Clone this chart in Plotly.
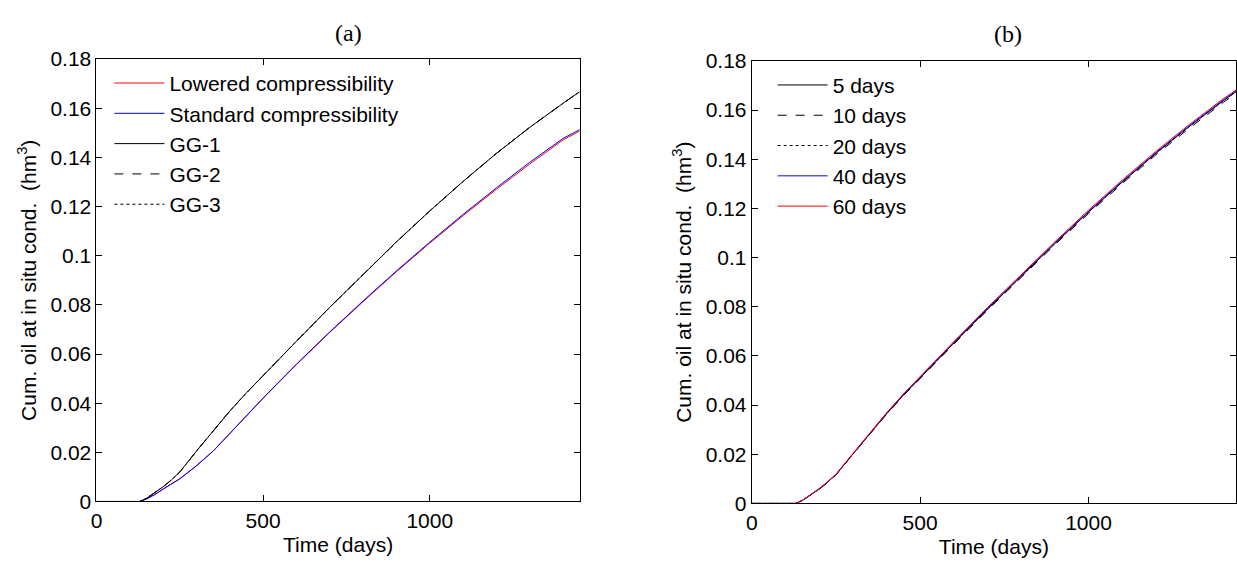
import plotly.graph_objects as go

# ---------------- data ----------------
time_days = [0, 130, 150, 175, 200, 225, 250, 300, 350, 400, 450, 500, 600,
             700, 800, 900, 1000, 1100, 1200, 1300, 1400, 1450]

# panel (a)
lowered_comp = [0, 0, 0.0011, 0.0029, 0.0051, 0.0071, 0.0093, 0.0146, 0.0205, 0.0276,
                0.0349, 0.0420, 0.0557, 0.0688, 0.0813, 0.0935, 0.1051, 0.1163,
                0.1270, 0.1373, 0.1471, 0.1507]
standard_comp = [0, 0, 0.0010, 0.0028, 0.0050, 0.0070, 0.0092, 0.0145, 0.0205, 0.0277,
                 0.0350, 0.0421, 0.0559, 0.0690, 0.0816, 0.0938, 0.1055, 0.1168,
                 0.1276, 0.1380, 0.1477, 0.1513]
gg1 = [0, 0, 0.0013, 0.0035, 0.0060, 0.0088, 0.0120, 0.0205, 0.0288, 0.0368,
       0.0442, 0.0513, 0.0652, 0.0790, 0.0925, 0.1056, 0.1182, 0.1302,
       0.1416, 0.1522, 0.1620, 0.1667]
gg2 = [0, 0, 0.0013, 0.0035, 0.0060, 0.0088, 0.0120, 0.0205, 0.0288, 0.0368,
       0.0442, 0.0513, 0.0652, 0.0790, 0.0925, 0.1056, 0.1182, 0.1302,
       0.1416, 0.1522, 0.1620, 0.1667]
gg3 = [0, 0, 0.0013, 0.0035, 0.0060, 0.0088, 0.0120, 0.0205, 0.0288, 0.0368,
       0.0442, 0.0513, 0.0652, 0.0790, 0.0925, 0.1056, 0.1182, 0.1302,
       0.1416, 0.1522, 0.1620, 0.1667]

# panel (b)
d5 = [0, 0, 0.0012, 0.0034, 0.0058, 0.0086, 0.0117, 0.0200, 0.0283, 0.0364,
      0.0440, 0.0512, 0.0652, 0.0790, 0.0925, 0.1057, 0.1185, 0.1307,
      0.1424, 0.1534, 0.1638, 0.1686]
d10 = [0, 0, 0.0012, 0.0033, 0.0057, 0.0085, 0.0116, 0.0199, 0.0281, 0.0362,
       0.0438, 0.0509, 0.0648, 0.0786, 0.0920, 0.1052, 0.1179, 0.1301,
       0.1418, 0.1527, 0.1631, 0.1679]
d20 = [0, 0, 0.0012, 0.0034, 0.0058, 0.0086, 0.0117, 0.0200, 0.0283, 0.0364,
       0.0440, 0.0512, 0.0652, 0.0790, 0.0925, 0.1057, 0.1185, 0.1307,
       0.1424, 0.1534, 0.1638, 0.1686]
d40 = [0, 0, 0.0012, 0.0034, 0.0059, 0.0087, 0.0118, 0.0201, 0.0284, 0.0366,
       0.0442, 0.0514, 0.0655, 0.0793, 0.0928, 0.1060, 0.1188, 0.1310,
       0.1427, 0.1537, 0.1641, 0.1689]
d60 = [0, 0, 0.0012, 0.0035, 0.0060, 0.0088, 0.0119, 0.0202, 0.0286, 0.0368,
       0.0445, 0.0517, 0.0658, 0.0797, 0.0932, 0.1064, 0.1193, 0.1315,
       0.1432, 0.1542, 0.1646, 0.1693]

y_ticks = [0, 0.02, 0.04, 0.06, 0.08, 0.1, 0.12, 0.14, 0.16, 0.18]
y_tick_labels = ["0", "0.02", "0.04", "0.06", "0.08", "0.1", "0.12", "0.14", "0.16", "0.18"]
x_ticks = [0, 500, 1000]
x_tick_labels = ["0", "500", "1000"]

# ---------------- figure ----------------
W, H = 1237, 572
SANS = "Liberation Sans, Arial, sans-serif"
SERIF = "Liberation Serif, Times New Roman, serif"
FS = 21

fig = go.Figure()

series_a = [
    ("Lowered compressibility", lowered_comp, "#ff0000", "solid"),
    ("Standard compressibility", standard_comp, "#0000ff", "solid"),
    ("GG-1", gg1, "#000000", "solid"),
    ("GG-2", gg2, "#000000", "dash"),
    ("GG-3", gg3, "#000000", "dot"),
]
for name, vals, col, dash in series_a:
    fig.add_trace(go.Scatter(x=time_days, y=vals, name=name, mode="lines",
                             line=dict(color=col, width=1, dash=dash),
                             xaxis="x", yaxis="y", legend="legend"))

series_b = [
    ("5 days", d5, "#000000", "solid"),
    ("10 days", d10, "#000000", "dash"),
    ("20 days", d20, "#000000", "dot"),
    ("40 days", d40, "#0000ff", "solid"),
    ("60 days", d60, "#ff0000", "solid"),
]
for name, vals, col, dash in series_b:
    fig.add_trace(go.Scatter(x=time_days, y=vals, name=name, mode="lines",
                             line=dict(color=col, width=1, dash=dash),
                             xaxis="x2", yaxis="y2", legend="legend2"))

def xax(domain, rng, anchor):
    return dict(domain=domain, range=rng, anchor=anchor,
                tickvals=x_ticks, ticktext=x_tick_labels,
                ticks="inside", ticklen=6, tickcolor="#000000",
                showline=True, linecolor="#000000", linewidth=1, mirror="ticks",
                showgrid=False, zeroline=False,
                tickfont=dict(family=SANS, size=FS, color="#000000"),
                title=dict(text="Time (days)", standoff=6,
                           font=dict(family=SANS, size=FS, color="#000000")))

def yax(domain, anchor):
    return dict(domain=domain, range=[0, 0.18], anchor=anchor,
                tickvals=y_ticks, ticktext=y_tick_labels,
                ticks="inside", ticklen=6, tickcolor="#000000",
                showline=True, linecolor="#000000", linewidth=1, mirror="ticks",
                showgrid=False, zeroline=False,
                tickfont=dict(family=SANS, size=FS, color="#000000"),
                title=dict(text="Cum. oil at in situ cond.  (hm<sup>3</sup>)", standoff=8,
                           font=dict(family=SANS, size=FS, color="#000000")))

fig.update_layout(
    width=W, height=H,
    margin=dict(l=0, r=0, t=0, b=0),
    paper_bgcolor="white", plot_bgcolor="white",
    xaxis=xax([91 / W, 577 / W], [0, 1450], "y"),
    yaxis=yax([1 - 510 / H, 1 - 49 / H], "x"),
    xaxis2=xax([750 / W, 1.0], [0, 1438], "y2"),
    yaxis2=yax([1 - 512 / H, 1 - 51 / H], "x2"),
    legend=dict(x=104 / W, y=1 - 53 / H, xanchor="left", yanchor="top",
                bgcolor="rgba(0,0,0,0)", borderwidth=0, itemwidth=50,
                font=dict(family=SANS, size=FS, color="#000000")),
    legend2=dict(x=771 / W, y=1 - 55 / H, xanchor="left", yanchor="top",
                 bgcolor="rgba(0,0,0,0)", borderwidth=0, itemwidth=50,
                 font=dict(family=SANS, size=FS, color="#000000")),
    showlegend=True,
    annotations=[
        dict(text="(a)", x=344 / W, y=1 - 22 / H, xref="paper", yref="paper",
             showarrow=False, xanchor="center", yanchor="middle",
             font=dict(family=SERIF, size=24, color="#000000")),
        dict(text="(b)", x=1008 / W, y=1 - 23 / H, xref="paper", yref="paper",
             showarrow=False, xanchor="center", yanchor="middle",
             font=dict(family=SERIF, size=24, color="#000000")),
    ],
)

fig.write_html(
    "out.html",
    config={"displayModeBar": False},
    post_script="document.body.style.margin='0';document.body.style.overflow='hidden';",
)
